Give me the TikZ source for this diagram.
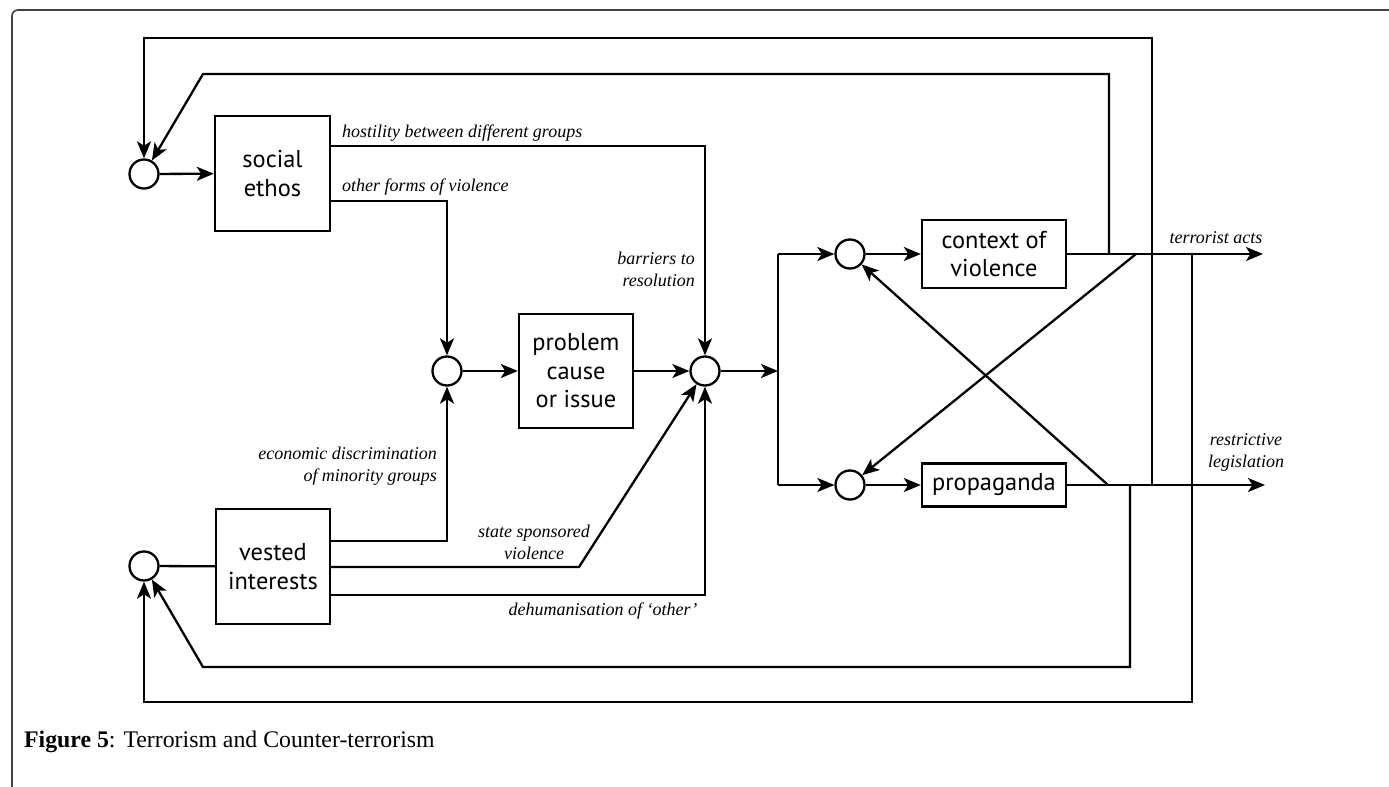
\documentclass[tikz,border=0pt]{standalone}
\usepackage{fontspec}
\setmainfont{Liberation Serif}
\newfontfamily\boxfont{PT Sans}
\usetikzlibrary{arrows.meta}
\begin{document}
\begin{tikzpicture}[x=0.5pt, y=-0.5pt, line width=1.15pt,
  >={Stealth[length=8.5pt,width=7pt,inset=2.2pt]},
  block/.style={draw, line width=1.2pt, font=\boxfont\fontsize{12.2}{14.25}\selectfont, align=center, inner sep=0pt},
  junction/.style={draw, circle, minimum size=14.5pt, inner sep=0pt, line width=1.15pt},
  lbl/.style={font=\fontsize{9}{11}\selectfont\itshape, inner sep=0pt},
  frame/.style={draw=black!75, line width=0.8pt, rounded corners=3pt}]
\useasboundingbox (0,0) rectangle (1389,787);
\draw[frame] (12,787) -- (12,10) -- (1389,10);

% blocks
\node[block, minimum width=57.5pt, minimum height=57.5pt] (se) at (272.5,173.5) {social\\ethos};
\node[block, minimum width=57pt, minimum height=57.5pt] (vi) at (273,566.5) {vested\\interests};
\node[block, minimum width=57pt, minimum height=57pt] (pc) at (576,371) {problem\\cause\\or issue};
\node[block, minimum width=72pt, minimum height=34pt] (cv) at (994,254) {context of\\violence};
\node[block, minimum width=72pt, minimum height=21.5pt] (pg) at (994,485) {propaganda};

% junctions
\node[junction] (c1) at (144,174) {};
\node[junction] (c2) at (144,566) {};
\node[junction] (c3) at (447,371) {};
\node[junction] (c4) at (705,371) {};
\node[junction] (cc) at (850,254) {};
\node[junction] (cp) at (850,485) {};

% coordinates
\coordinate (sp) at (778,371);
\coordinate (spt) at (778,254);
\coordinate (spb) at (778,485);
\coordinate (ta) at (1263,254);
\coordinate (rl) at (1265,485);
\coordinate (t1) at (1109,254);
\coordinate (t2) at (1136,254);
\coordinate (t3) at (1192,254);
\coordinate (p1) at (1108,485);
\coordinate (p2) at (1130,485);
\coordinate (p3) at (1152,485);

% connectors
\draw[->] (c1) -- (se);
\draw (c2) -- (vi);
\draw[->] (se.east |- 0,146) -| (c4);
\draw[->] (se.east |- 0,201) -| (c3);
\draw[->] (vi.east |- 0,541) -| (c3);
\draw[->] (vi.east |- 0,567) -- (579,567) -- (c4);
\draw[->] (vi.east |- 0,595) -| (c4);
\draw[->] (c3) -- (pc);
\draw[->] (pc) -- (c4);
\draw[->] (c4) -- (sp);
\draw (spt) -- (spb);
\draw[->] (spt) -- (cc);
\draw[->] (spb) -- (cp);
\draw[->] (cc) -- (cv);
\draw[->] (cp) -- (pg);
\draw[->] (cv) -- (ta);
\draw[->] (pg) -- (rl);
\draw[->] (t1) -- (1109,74) -- (203,74) -- (c1);
\draw[->] (p3) -- (1152,38) -| (c1);
\draw[->] (t2) -- (cp);
\draw[->] (p1) -- (cc);
\draw[->] (t3) -- (1192,702) -| (c2);
\draw[->] (p2) -- (1130,667) -- (203,667) -- (c2);

% labels
\node[lbl, anchor=west] (l1) at (341,133) {hostility between different groups};
\node[lbl, anchor=west] (l2) at (341,187) {other forms of violence};
\node[lbl, anchor=east, align=right] (l3) at (696,269) {barriers to\\resolution};
\node[lbl, anchor=east, align=right] (l4) at (438,466) {economic discrimination\\of minority groups};
\node[lbl, align=center] (l5) at (534,542) {state sponsored\\violence};
\node[lbl] (l6) at (603,611) {dehumanisation of ‘other’};
\node[lbl] (l7) at (1216,238) {terrorist acts};
\node[lbl, align=center] (l8) at (1246,452) {restrictive\\legislation};

% caption
\node[anchor=base west, inner sep=0pt, font=\fontsize{11.9}{14}\selectfont] (cap) at (23,747) {\textbf{Figure 5}: Terrorism and Counter-terrorism};
\end{tikzpicture}
\end{document}
